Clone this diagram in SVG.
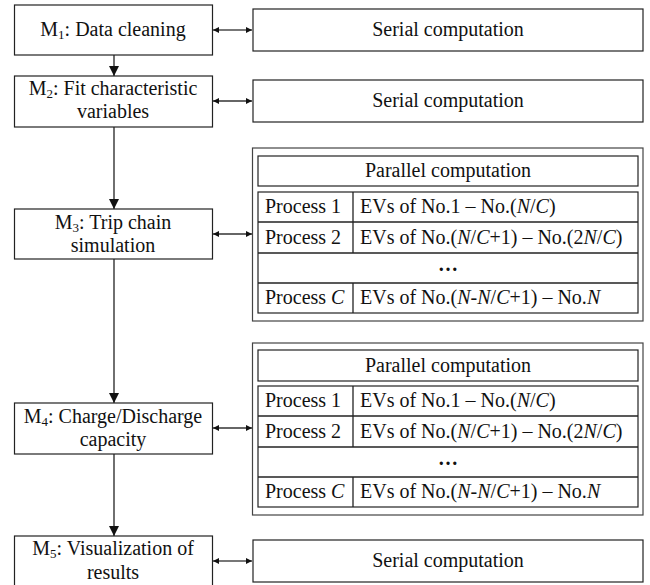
<svg xmlns="http://www.w3.org/2000/svg" width="650" height="585" viewBox="0 0 650 585">
<style>
  .box { fill: #fff; stroke: #222; stroke-width: 1.2; }
  .outer { fill: #fff; stroke: #444; stroke-width: 1.2; }
  .t { font-family: "Liberation Serif", "Times New Roman", serif; font-size: 20px; fill: #111; }
  .c { text-anchor: middle; }
  .i { font-style: italic; }
  .sub { font-size: 13px; }
  .v { stroke: #222; stroke-width: 1.3; fill: none; }
  .h { stroke: #333; stroke-width: 1.3; fill: none; }
  .hg { stroke: #777; stroke-width: 2; fill: none; }
</style>
<defs>
  <marker id="down" viewBox="0 0 10 10" refX="10" refY="5" markerWidth="10" markerHeight="10" markerUnits="userSpaceOnUse" orient="auto">
    <path d="M0,0 L10,5 L0,10 z" fill="#111"/>
  </marker>
  <marker id="ha" viewBox="0 0 6 6" refX="6" refY="3" markerWidth="6" markerHeight="6" markerUnits="userSpaceOnUse" orient="auto-start-reverse">
    <path d="M0,0 L6,3 L0,6 z" fill="#111"/>
  </marker>
</defs>

<g id="connectors">
  <line class="v" x1="114" y1="55" x2="114" y2="76" marker-end="url(#down)"/>
  <line class="v" x1="114" y1="127" x2="114" y2="209" marker-end="url(#down)"/>
  <line class="v" x1="114" y1="259" x2="114" y2="403" marker-end="url(#down)"/>
  <line class="v" x1="114" y1="454" x2="114" y2="536" marker-end="url(#down)"/>
  <line class="hg" x1="213" y1="30" x2="252" y2="30" marker-start="url(#ha)" marker-end="url(#ha)"/>
  <line class="h" x1="213" y1="101" x2="252" y2="101" marker-start="url(#ha)" marker-end="url(#ha)"/>
  <line class="h" x1="213" y1="234" x2="252" y2="234" marker-start="url(#ha)" marker-end="url(#ha)"/>
  <line class="h" x1="213" y1="428" x2="252" y2="428" marker-start="url(#ha)" marker-end="url(#ha)"/>
  <line class="hg" x1="213" y1="561" x2="252" y2="561" marker-start="url(#ha)" marker-end="url(#ha)"/>
</g>

<g id="m1">
  <rect class="box" x="14.5" y="5" width="198" height="50"/>
  <text class="t c" x="113" y="36">M<tspan class="sub" baseline-shift="-3">1</tspan>: Data cleaning</text>
</g>
<g id="m2">
  <rect class="box" x="14.5" y="76" width="198" height="51"/>
  <text class="t c" x="113" y="95">M<tspan class="sub" baseline-shift="-3">2</tspan>: Fit characteristic</text>
  <text class="t c" x="113" y="118">variables</text>
</g>
<g id="m3">
  <rect class="box" x="14.5" y="209" width="198" height="50"/>
  <text class="t c" x="113" y="229">M<tspan class="sub" baseline-shift="-3">3</tspan>: Trip chain</text>
  <text class="t c" x="113" y="252">simulation</text>
</g>
<g id="m4">
  <rect class="box" x="14.5" y="403" width="198" height="51"/>
  <text class="t c" x="113" y="423">M<tspan class="sub" baseline-shift="-3">4</tspan>: Charge/Discharge</text>
  <text class="t c" x="113" y="446">capacity</text>
</g>
<g id="m5">
  <rect class="box" x="14.5" y="536" width="198" height="52"/>
  <text class="t c" x="113" y="555">M<tspan class="sub" baseline-shift="-3">5</tspan>: Visualization of</text>
  <text class="t c" x="113" y="579">results</text>
</g>

<g id="serial1">
  <rect class="box" x="253" y="9" width="390" height="42"/>
  <text class="t c" x="448" y="36">Serial computation</text>
</g>
<g id="serial2">
  <rect class="box" x="253" y="80" width="390" height="42"/>
  <text class="t c" x="448" y="107">Serial computation</text>
</g>

<g id="parallel1">
  <rect class="outer" x="252.5" y="148" width="390.5" height="173"/>
  <rect class="box" x="258" y="156" width="380" height="30"/>
  <text class="t c" x="448" y="177">Parallel computation</text>
  <rect class="box" x="258" y="192" width="380" height="121"/>
  <line class="v" x1="258" y1="222" x2="638" y2="222"/>
  <line class="v" x1="258" y1="253" x2="638" y2="253"/>
  <line class="v" x1="258" y1="283" x2="638" y2="283"/>
  <line class="v" x1="353" y1="192" x2="353" y2="253"/>
  <line class="v" x1="353" y1="283" x2="353" y2="313"/>
  <text class="t" x="265" y="213">Process 1</text>
  <text class="t" x="360" y="213">EVs of No.1 – No.(<tspan class="i">N</tspan>/<tspan class="i">C</tspan>)</text>
  <text class="t" x="265" y="244">Process 2</text>
  <text class="t" x="360" y="244">EVs of No.(<tspan class="i">N</tspan>/<tspan class="i">C</tspan>+1) – No.(2<tspan class="i">N</tspan>/<tspan class="i">C</tspan>)</text>
  <text class="t c" x="448" y="271" font-weight="bold">…</text>
  <text class="t" x="265" y="304">Process <tspan class="i">C</tspan></text>
  <text class="t" x="360" y="304">EVs of No.(<tspan class="i">N</tspan>-<tspan class="i">N</tspan>/<tspan class="i">C</tspan>+1) – No.<tspan class="i">N</tspan></text>
</g>

<g id="parallel2">
  <rect class="outer" x="252.5" y="343" width="390.5" height="172"/>
  <rect class="box" x="258" y="350" width="380" height="31"/>
  <text class="t c" x="448" y="372">Parallel computation</text>
  <rect class="box" x="258" y="386" width="380" height="121"/>
  <line class="v" x1="258" y1="416" x2="638" y2="416"/>
  <line class="v" x1="258" y1="447" x2="638" y2="447"/>
  <line class="v" x1="258" y1="477" x2="638" y2="477"/>
  <line class="v" x1="353" y1="386" x2="353" y2="447"/>
  <line class="v" x1="353" y1="477" x2="353" y2="507"/>
  <text class="t" x="265" y="407">Process 1</text>
  <text class="t" x="360" y="407">EVs of No.1 – No.(<tspan class="i">N</tspan>/<tspan class="i">C</tspan>)</text>
  <text class="t" x="265" y="438">Process 2</text>
  <text class="t" x="360" y="438">EVs of No.(<tspan class="i">N</tspan>/<tspan class="i">C</tspan>+1) – No.(2<tspan class="i">N</tspan>/<tspan class="i">C</tspan>)</text>
  <text class="t c" x="448" y="465" font-weight="bold">…</text>
  <text class="t" x="265" y="498">Process <tspan class="i">C</tspan></text>
  <text class="t" x="360" y="498">EVs of No.(<tspan class="i">N</tspan>-<tspan class="i">N</tspan>/<tspan class="i">C</tspan>+1) – No.<tspan class="i">N</tspan></text>
</g>

<g id="serial3">
  <rect class="box" x="253" y="540" width="390" height="42"/>
  <text class="t c" x="448" y="567">Serial computation</text>
</g>
</svg>
